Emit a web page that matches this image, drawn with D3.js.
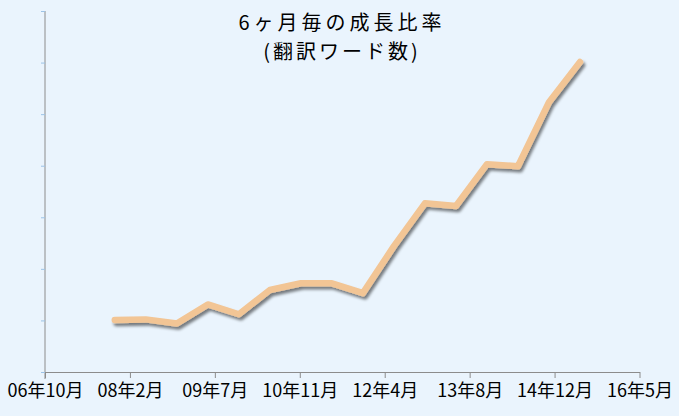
<!DOCTYPE html>
<html><head><meta charset="utf-8">
<script src="https://cdn.jsdelivr.net/npm/d3@7"></script>
<style>
html,body{margin:0;padding:0;background:#EAF4FD;}
svg{display:block;}
text{font-family:"Noto Sans CJK JP","Noto Sans",sans-serif;fill:#000;}
</style></head>
<body>
<script>
const titleLines = ["6ヶ月毎の成長比率", "(翻訳ワード数)"];
const tickLabels = ["06年10月","08年2月","09年7月","10年11月","12年4月","13年8月","14年12月","16年5月"];
// data points every 6 months, expressed as months since 06年10月
const pointMonths = [13.5,19.5,25.5,31.5,37.5,43.5,49.5,55.5,61.5,67.5,73.5,79.5,85.5,91.5,97.5,103.5];
const values = [1.01,1.02,0.94,1.31,1.12,1.59,1.72,1.72,1.53,2.44,3.27,3.22,4.03,3.99,5.23,6.01];
const yTicks = [0,1,2,3,4,5,6,7];
const tickStepMonths = 16.43; // 500-day major unit

const W = 679, H = 416;
const svg = d3.select("body").append("svg").attr("width", W).attr("height", H);

const defs = svg.append("defs");
const f = defs.append("filter").attr("id","sh").attr("x","-10%").attr("y","-10%").attr("width","120%").attr("height","130%");
f.append("feGaussianBlur").attr("in","SourceAlpha").attr("stdDeviation",1.6).attr("result","b");
f.append("feOffset").attr("in","b").attr("dx",1.5).attr("dy",3).attr("result","o");
f.append("feComponentTransfer").attr("in","o").attr("result","o2")
  .append("feFuncA").attr("type","linear").attr("slope",0.5);
const m = f.append("feMerge");
m.append("feMergeNode").attr("in","o2");
m.append("feMergeNode").attr("in","SourceGraphic");

const x = d3.scaleLinear().domain([0, tickStepMonths*7]).range([45, 639.5]);
const y = d3.scaleLinear().domain([0, 7]).range([372, 11]);

// y axis
const yAxis = d3.axisLeft(y).tickValues(yTicks).tickSize(4).tickFormat("");
const gy = svg.append("g").attr("transform","translate(45,0)").call(yAxis);
gy.select(".domain").attr("stroke","#8c8c8c").attr("d","M0,11V379");
gy.selectAll(".tick line").attr("stroke","#9DC3E6");

// x axis
const xAxis = d3.axisBottom(x).tickValues(tickLabels.map((d,i)=>i*tickStepMonths))
  .tickSize(6).tickSizeOuter(0).tickFormat((d,i)=>tickLabels[i]);
const gx = svg.append("g").attr("transform","translate(0,372)").call(xAxis);
gx.select(".domain").attr("stroke","#8c8c8c");
gx.selectAll(".tick line").attr("stroke","#8c8c8c");
gx.selectAll(".tick text").attr("font-size",18).attr("y",12).attr("dy","0.71em")
  .style("font-family",'"Noto Sans CJK JP","Noto Sans",sans-serif').attr("fill","#000");

// line
const line = d3.line().x((d,i)=>x(pointMonths[i])).y(d=>y(d));
svg.append("path").datum(values).attr("d",line)
  .attr("fill","none").attr("stroke","#F2C595").attr("stroke-width",6.5)
  .attr("stroke-linejoin","round").attr("stroke-linecap","round")
  .attr("filter","url(#sh)");

// title
svg.append("text").attr("x",342).attr("y",30).attr("text-anchor","middle")
  .attr("font-size",20).attr("letter-spacing",4).text(titleLines[0]);
svg.append("text").attr("x",342).attr("y",59).attr("text-anchor","middle")
  .attr("font-size",20).attr("letter-spacing",3).text(titleLines[1]);
</script>
</body></html>
